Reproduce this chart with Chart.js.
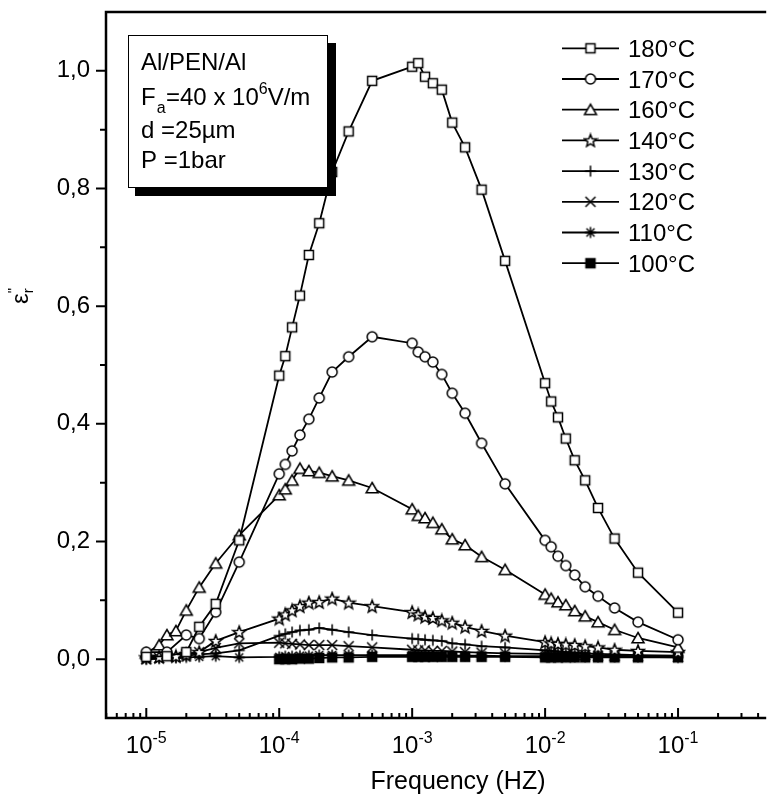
<!DOCTYPE html>
<html>
<head>
<meta charset="utf-8">
<script src="https://cdn.jsdelivr.net/npm/chart.js@4.4.1/dist/chart.umd.min.js"></script>
<style>
  html, body { margin: 0; padding: 0; background: #fff; }
</style>
</head>
<body>
<canvas id="chart" width="773" height="796"></canvas>
<script>
// frequencies (Hz), shared by all series
const frequency = [
  1e-5, 1.11e-5, 1.25e-5, 1.43e-5, 1.67e-5, 2e-5, 2.5e-5, 3.33e-5, 5e-5,
  1e-4, 1.11e-4, 1.25e-4, 1.43e-4, 1.67e-4, 2e-4, 2.5e-4, 3.33e-4, 5e-4,
  1e-3, 1.11e-3, 1.25e-3, 1.43e-3, 1.67e-3, 2e-3, 2.5e-3, 3.33e-3, 5e-3,
  1e-2, 1.11e-2, 1.25e-2, 1.43e-2, 1.67e-2, 2e-2, 2.5e-2, 3.33e-2, 5e-2,
  0.1
];

const eps180 = [
  0.004, null, null, 0.005, null, 0.012, 0.055, 0.094, 0.202,
  0.482, 0.515, 0.564, 0.618, 0.687, 0.741, 0.828, 0.897, 0.983,
  1.007, 1.013, 0.990, 0.979, 0.968, 0.912, 0.870, 0.798, 0.677,
  0.469, 0.438, 0.411, 0.375, 0.338, 0.304, 0.257, 0.205, 0.147,
  0.079
];
const eps170 = [
  0.012, null, null, 0.012, null, 0.041, 0.035, 0.080, 0.165,
  0.315, 0.331, 0.354, 0.381, 0.408, 0.444, 0.488, 0.514, 0.548,
  0.537, 0.522, 0.514, 0.505, 0.484, 0.452, 0.418, 0.367, 0.298,
  0.202, 0.191, 0.175, 0.159, 0.143, 0.123, 0.107, 0.087, 0.063,
  0.033
];
const eps160 = [
  0.010, null, 0.024, 0.041, 0.048, 0.083, 0.122, 0.163, 0.211,
  0.279, 0.289, 0.304, 0.324, 0.320, 0.317, 0.311, 0.304, 0.291,
  0.255, 0.244, 0.240, 0.232, 0.221, 0.204, 0.194, 0.174, 0.152,
  0.110, 0.103, 0.097, 0.092, 0.082, 0.073, 0.063, 0.050, 0.036,
  0.020
];
const eps140 = [
  0.003, null, 0.004, null, 0.005, 0.008, 0.012, 0.031, 0.046,
  0.069, 0.076, 0.083, 0.090, 0.096, 0.097, 0.103, 0.096, 0.090,
  0.080, 0.076, 0.072, 0.070, 0.066, 0.062, 0.055, 0.048, 0.040,
  0.029, 0.027, 0.026, 0.025, 0.024, 0.022, 0.020, 0.016, 0.014,
  0.012
];
const eps130 = [
  0.000, null, 0.002, null, 0.004, 0.006, 0.008, 0.010, 0.015,
  0.040, 0.043, 0.046, 0.049, 0.050, 0.053, 0.050, 0.046, 0.041,
  0.035, 0.034, 0.033, 0.032, 0.031, 0.027, 0.025, 0.022, 0.020,
  0.015, 0.014, 0.013, 0.012, 0.011, 0.010, 0.009, 0.008, 0.007,
  0.006
];
const eps120 = [
  0.000, null, 0.002, null, 0.004, 0.008, 0.012, 0.019, 0.027,
  0.028, 0.027, 0.026, 0.025, 0.024, 0.024, 0.024, 0.022, 0.020,
  0.016, 0.015, 0.015, 0.014, 0.014, 0.013, 0.012, 0.011, 0.010,
  0.009, 0.008, 0.008, 0.008, 0.007, 0.007, 0.006, 0.006, 0.005,
  0.004
];
const eps110 = [
  0.000, null, 0.001, null, 0.002, 0.003, 0.004, 0.005, 0.003,
  0.004, 0.005, 0.005, 0.006, 0.006, 0.007, 0.007, 0.007, 0.007,
  0.007, 0.007, 0.007, 0.006, 0.006, 0.006, 0.006, 0.006, 0.005,
  0.005, 0.005, 0.005, 0.005, 0.004, 0.004, 0.004, 0.004, 0.004,
  0.003
];
const eps100 = [
  null, null, null, null, null, null, null, null, null,
  0.000, 0.000, 0.000, 0.001, 0.001, 0.002, 0.003, 0.003, 0.004,
  0.004, 0.004, 0.004, 0.004, 0.004, 0.004, 0.004, 0.004, 0.004,
  0.003, 0.003, 0.003, 0.003, 0.003, 0.003, 0.003, 0.003, 0.003,
  0.003
];

const seriesLabels = ['180°C', '170°C', '160°C', '140°C', '130°C', '120°C', '110°C', '100°C'];
const seriesValues = [eps180, eps170, eps160, eps140, eps130, eps120, eps110, eps100];
const seriesMarkers = ['square', 'circle', 'triangle', 'star', 'plus', 'cross', 'asterisk', 'filled'];

const xTickExponents = [-5, -4, -3, -2, -1];
const yTickValues = [0, 0.2, 0.4, 0.6, 0.8, 1.0];
const yMinorValues = [0.1, 0.3, 0.5, 0.7, 0.9];

const FONT = '"Liberation Sans", Arial, sans-serif';

// marker glyphs drawn once into small canvases
function makeMarker(kind) {
  const s = 16, c = document.createElement('canvas');
  c.width = s; c.height = s;
  const g = c.getContext('2d');
  g.translate(s / 2, s / 2);
  g.lineWidth = 1.5;
  g.strokeStyle = '#000';
  g.fillStyle = '#fff';
  g.beginPath();
  if (kind === 'square' || kind === 'filled') {
    if (kind === 'filled') g.fillStyle = '#000';
    g.rect(-4.5, -4.5, 9, 9);
    g.fill(); g.stroke();
  } else if (kind === 'circle') {
    g.arc(0, 0, 5, 0, Math.PI * 2);
    g.fill(); g.stroke();
  } else if (kind === 'triangle') {
    g.moveTo(0, -5.5); g.lineTo(6, 4.8); g.lineTo(-6, 4.8); g.closePath();
    g.fill(); g.stroke();
  } else if (kind === 'star') {
    for (let i = 0; i < 10; i++) {
      const r = i % 2 ? 2.8 : 6.5;
      const a = -Math.PI / 2 + i * Math.PI / 5;
      g.lineTo(r * Math.cos(a), r * Math.sin(a) + 0.5);
    }
    g.closePath();
    g.fill(); g.stroke();
  } else if (kind === 'plus') {
    g.moveTo(-5.5, 0); g.lineTo(5.5, 0); g.moveTo(0, -5.5); g.lineTo(0, 5.5);
    g.stroke();
  } else if (kind === 'cross') {
    g.moveTo(-5, -5); g.lineTo(5, 5); g.moveTo(5, -5); g.lineTo(-5, 5);
    g.stroke();
  } else if (kind === 'asterisk') {
    g.moveTo(-5.5, 0); g.lineTo(5.5, 0); g.moveTo(0, -5.5); g.lineTo(0, 5.5);
    g.moveTo(-4, -4); g.lineTo(4, 4); g.moveTo(4, -4); g.lineTo(-4, 4);
    g.stroke();
  }
  return c;
}
const markerImages = seriesMarkers.map(makeMarker);

const datasets = seriesValues.map((vals, i) => ({
  label: seriesLabels[i],
  data: frequency.map((f, j) => ({ x: f, y: vals[j] })).filter(p => p.y !== null),
  borderColor: '#000',
  borderWidth: 1.8,
  tension: 0,
  pointStyle: markerImages[i],
  pointRadius: 5,
  fill: false
}));

function drawSup(ctx, base, exp, x, y, big, small, rise) {
  ctx.font = big + 'px ' + FONT;
  ctx.fillText(base, x, y);
  const w = ctx.measureText(base).width;
  ctx.font = small + 'px ' + FONT;
  ctx.fillText(exp, x + w, y - rise);
}

function noPadding(s) {
  s.paddingTop = 0; s.paddingBottom = 0; s.paddingLeft = 0; s.paddingRight = 0;
}

const decorations = {
  id: 'decorations',
  afterDatasetsDraw(chart) {
    const { ctx, chartArea: a, scales: { x, y } } = chart;
    ctx.save();
    ctx.strokeStyle = '#000';
    ctx.fillStyle = '#000';

    // frame: left, bottom, top
    ctx.lineWidth = 2.5;
    ctx.beginPath();
    ctx.moveTo(a.right, a.top); ctx.lineTo(a.left, a.top);
    ctx.lineTo(a.left, a.bottom); ctx.lineTo(a.right, a.bottom);
    ctx.stroke();

    // y ticks (outward)
    ctx.lineWidth = 2;
    ctx.beginPath();
    yTickValues.forEach(v => { const p = y.getPixelForValue(v); ctx.moveTo(a.left - 10, p); ctx.lineTo(a.left, p); });
    yMinorValues.forEach(v => { const p = y.getPixelForValue(v); ctx.moveTo(a.left - 6, p); ctx.lineTo(a.left, p); });
    ctx.stroke();

    // x ticks (inward)
    ctx.beginPath();
    for (let e = -6; e <= 0; e++) {
      for (let m = 1; m <= 9; m++) {
        const v = m * Math.pow(10, e);
        if (v < x.min || v > x.max) continue;
        const p = x.getPixelForValue(v);
        ctx.moveTo(p, a.bottom);
        ctx.lineTo(p, a.bottom - (m === 1 ? 10 : 5));
      }
    }
    ctx.stroke();

    // x tick labels 10^n
    ctx.textBaseline = 'alphabetic';
    ctx.textAlign = 'left';
    xTickExponents.forEach(e => {
      const p = x.getPixelForValue(Math.pow(10, e));
      ctx.font = '24px ' + FONT;
      const w1 = ctx.measureText('10').width;
      ctx.font = '16px ' + FONT;
      const w2 = ctx.measureText(String(e)).width;
      drawSup(ctx, '10', String(e), p - (w1 + w2) / 2, 753, 24, 16, 10);
    });

    // axis titles
    ctx.font = '25px ' + FONT;
    ctx.textAlign = 'center';
    ctx.fillText('Frequency (HZ)', 458, 789);

    ctx.save();
    ctx.translate(28, 304);
    ctx.rotate(-Math.PI / 2);
    ctx.textAlign = 'left';
    ctx.font = '24px ' + FONT;
    ctx.fillText('ε', 0, 0);
    const we = ctx.measureText('ε').width;
    ctx.font = '15px ' + FONT;
    ctx.fillText('"', we, -10);
    ctx.fillText('r', we, 5);
    ctx.restore();

    // info box with shadow
    ctx.fillStyle = '#000';
    ctx.fillRect(135, 43, 201, 153);
    ctx.fillStyle = '#fff';
    ctx.fillRect(128, 35, 200, 153);
    ctx.lineWidth = 1;
    ctx.strokeRect(128.5, 35.5, 199, 152);
    ctx.fillStyle = '#000';
    ctx.textAlign = 'left';
    ctx.font = '24px ' + FONT;
    ctx.fillText('Al/PEN/Al', 141, 70);
    ctx.fillText('F', 141, 105);
    let wx = 141 + ctx.measureText('F').width;
    ctx.font = '16px ' + FONT;
    ctx.fillText('a', wx + 1, 113);
    wx = 166;
    ctx.font = '24px ' + FONT;
    ctx.fillText('=40 x 10', wx, 105);
    wx += ctx.measureText('=40 x 10').width;
    ctx.font = '16px ' + FONT;
    ctx.fillText('6', wx, 94);
    wx += ctx.measureText('6').width;
    ctx.font = '24px ' + FONT;
    ctx.fillText('V/m', wx, 105);
    ctx.fillText('d =25µm', 141, 138);
    ctx.fillText('P =1bar', 141, 168);

    // legend
    ctx.lineWidth = 1.8;
    seriesLabels.forEach((lab, i) => {
      const cy = 48.3 + i * 30.7;
      ctx.beginPath();
      ctx.moveTo(562, cy); ctx.lineTo(619, cy);
      ctx.stroke();
      const img = markerImages[i];
      ctx.drawImage(img, 590.5 - img.width / 2, cy - img.height / 2);
      ctx.font = '24px ' + FONT;
      ctx.fillText(lab, 628, cy + 8.5);
    });
    ctx.restore();
  }
};

new Chart(document.getElementById('chart'), {
  type: 'line',
  data: { datasets },
  options: {
    responsive: false,
    animation: false,
    events: [],
    layout: { padding: { top: 12, right: 0, bottom: 0, left: 0 } },
    plugins: { legend: { display: false }, tooltip: { enabled: false } },
    scales: {
      x: {
        type: 'logarithmic',
        min: 4.977e-6,
        max: 0.4603,
        afterFit: s => { s.height = 78; noPadding(s); },
        grid: { display: false, drawTicks: false },
        border: { display: false },
        ticks: { display: false }
      },
      y: {
        type: 'linear',
        min: -0.1,
        max: 1.1,
        afterBuildTicks: s => { s.ticks = yTickValues.map(v => ({ value: v })); },
        afterFit: s => { s.width = 106; noPadding(s); },
        grid: { display: false, drawTicks: false },
        border: { display: false },
        ticks: {
          padding: 16,
          color: '#000',
          font: { family: FONT, size: 24 },
          callback: v => v.toFixed(1).replace('.', ',')
        }
      }
    }
  },
  plugins: [decorations]
});
</script>
</body>
</html>
